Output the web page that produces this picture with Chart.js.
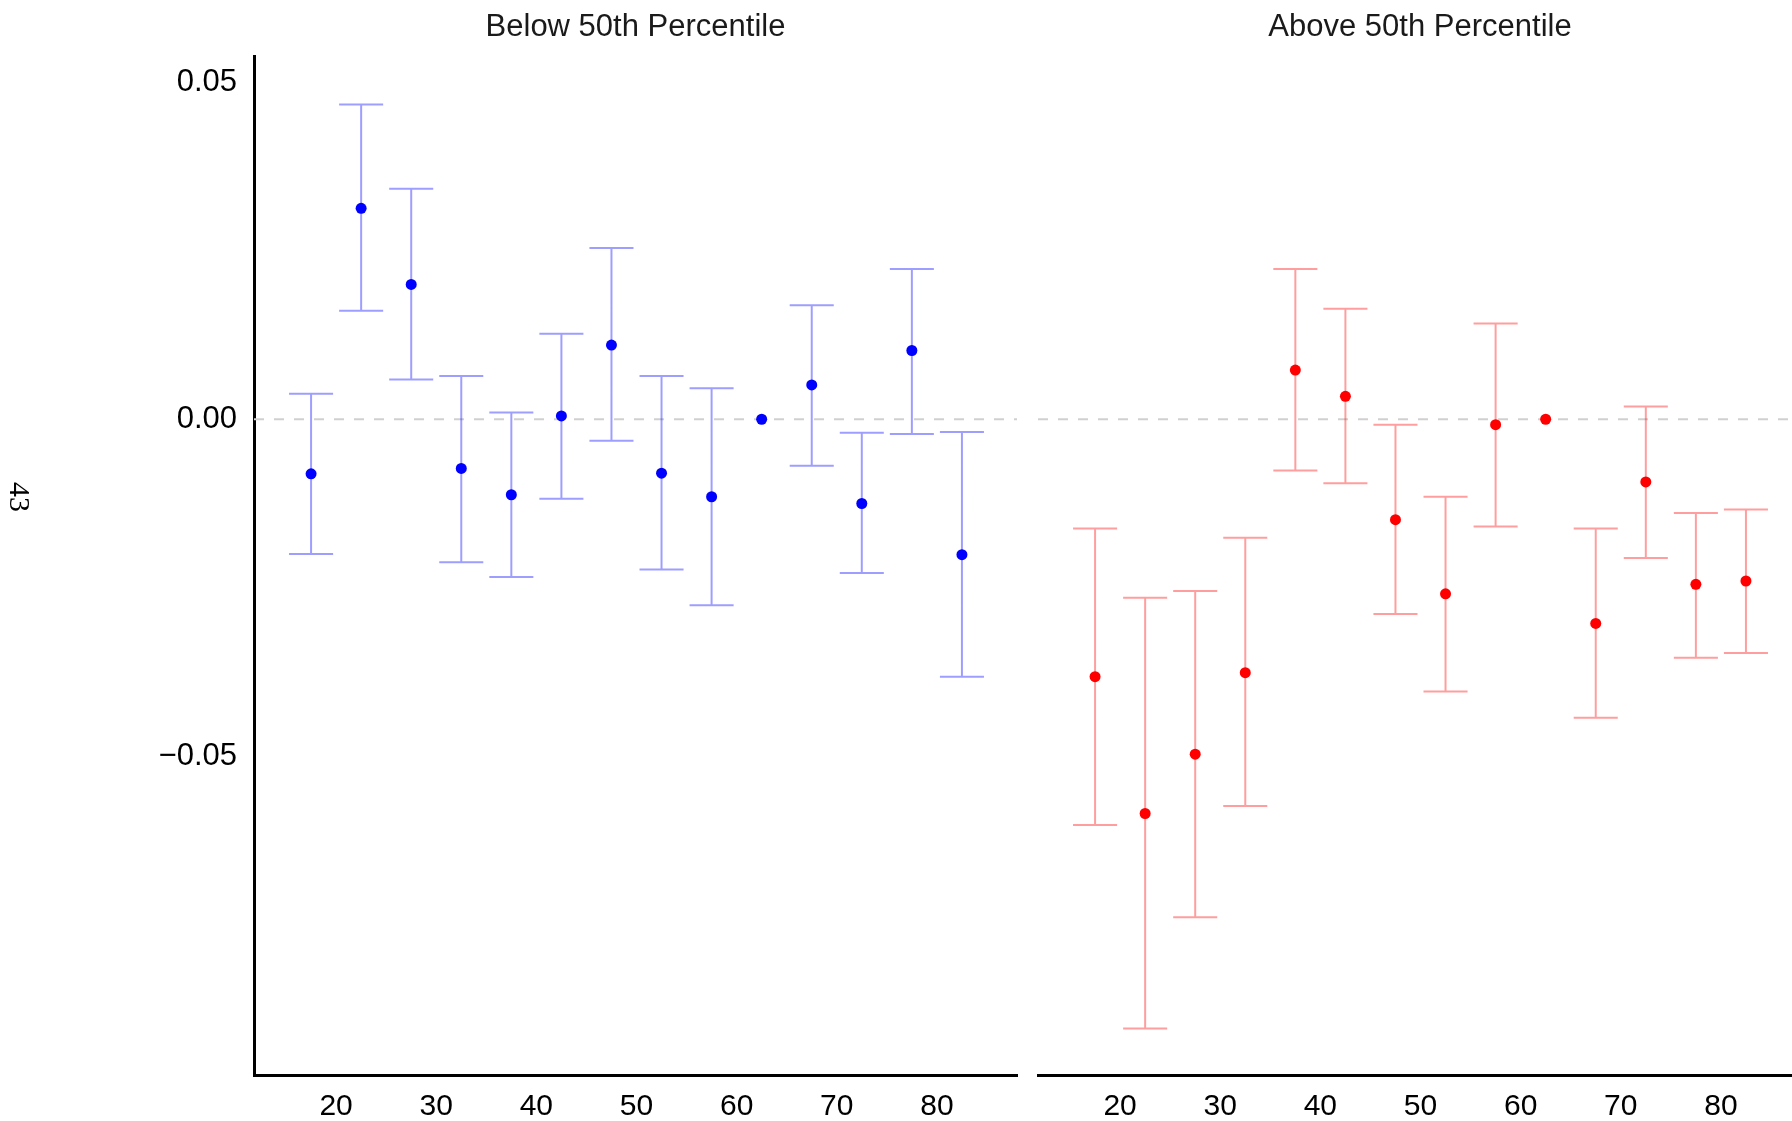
<!DOCTYPE html>
<html>
<head>
<meta charset="utf-8">
<script src="https://cdn.jsdelivr.net/npm/chart.js@4"></script>
<style>
  html, body { margin: 0; padding: 0; background: #fff; overflow: hidden; }
  body { width: 1792px; height: 1121px; position: relative; }
  canvas { position: absolute; top: 0; }
  #c1 { left: 0; }
  #c2 { left: 1030px; }
</style>
</head>
<body>
<canvas id="c1" width="1030" height="1121"></canvas>
<canvas id="c2" width="762" height="1121"></canvas>
<script>
// age bin midpoints
const ages = [17.5, 22.5, 27.5, 32.5, 37.5, 42.5, 47.5, 52.5, 57.5, 62.5, 67.5, 72.5, 77.5, 82.5];

// below 50th percentile (62.5 is the reference group, no interval)
const belowEst = [-0.0081, 0.0313, 0.0200, -0.0073, -0.0112, 0.0005, 0.0110, -0.0080, -0.0115, 0, 0.0051, -0.0125, 0.0102, -0.0201];
const belowHi  = [0.0038, 0.0467, 0.0342, 0.0064, 0.0010, 0.0127, 0.0254, 0.0064, 0.0046, null, 0.0169, -0.0020, 0.0223, -0.0019];
const belowLo  = [-0.0200, 0.0161, 0.0059, -0.0212, -0.0234, -0.0118, -0.0032, -0.0223, -0.0276, null, -0.0069, -0.0228, -0.0022, -0.0382];

// above 50th percentile
const aboveEst = [-0.0382, -0.0585, -0.0497, -0.0376, 0.0073, 0.0034, -0.0149, -0.0259, -0.0008, 0, -0.0303, -0.0093, -0.0245, -0.0240];
const aboveHi  = [-0.0162, -0.0265, -0.0255, -0.0176, 0.0223, 0.0164, -0.0008, -0.0115, 0.0142, null, -0.0162, 0.0019, -0.0139, -0.0134];
const aboveLo  = [-0.0602, -0.0904, -0.0739, -0.0574, -0.0076, -0.0095, -0.0289, -0.0404, -0.0159, null, -0.0443, -0.0206, -0.0354, -0.0347];

const xTicks = [20, 30, 40, 50, 60, 70, 80];
const yTicks = [-0.05, 0, 0.05];
const yTickLabels = ['\u22120.05', '0.00', '0.05'];
const panelTitles = ['Below 50th Percentile', 'Above 50th Percentile'];
const yLabel = '43';

const X_MIN = 11.8;
const X_MAX = 88.0;     // first panel
const X_MAX_CUT = 87.1; // second panel is cut by the page edge
const Y_MIN = -0.0973, Y_MAX = 0.0539;
const CAP = 2.2; // half width of the error bar caps, in x units

// build one line dataset holding all error bars, broken by gaps
function errorBarPoints(xs, lo, hi) {
  const pts = [];
  xs.forEach(function(x, i) {
    if (lo[i] === null) return;
    pts.push({x: x - CAP, y: hi[i]}, {x: x + CAP, y: hi[i]}, {x: x, y: null});
    pts.push({x: x, y: hi[i]}, {x: x, y: lo[i]}, {x: x, y: null});
    pts.push({x: x - CAP, y: lo[i]}, {x: x + CAP, y: lo[i]}, {x: x, y: null});
  });
  return pts;
}

// panel strip title and the rotated side label
const panelText = {
  id: 'panelText',
  afterDraw(chart, args, opts) {
    const ctx = chart.ctx;
    const a = chart.chartArea;
    ctx.save();
    ctx.fillStyle = '#1a1a1a';
    ctx.font = '31px "Liberation Sans", Arial, sans-serif';
    ctx.textAlign = 'center';
    ctx.textBaseline = 'middle';
    ctx.fillText(opts.title, opts.center !== undefined ? opts.center : (a.left + a.right) / 2, 27);
    if (opts.ylabel) {
      ctx.translate(18, 497);
      ctx.rotate(Math.PI / 2);
      ctx.fillStyle = '#000';
      ctx.font = '30px "Liberation Serif", "DejaVu Serif", serif';
      ctx.fillText(opts.ylabel, 0, 0);
    }
    ctx.restore();
  }
};

function makePanel(id, est, lo, hi, dotColor, barColor, title, showY, xMax, titleX, padding) {
  const ctx = document.getElementById(id);
  return new Chart(ctx, {
    type: 'line',
    data: {
      datasets: [
        {
          label: 'estimate',
          type: 'scatter',
          data: ages.map(function(x, i) { return {x: x, y: est[i]}; }),
          backgroundColor: dotColor,
          borderColor: dotColor,
          pointRadius: 5.5,
          pointBorderWidth: 0,
          order: 0
        },
        {
          label: 'ci',
          data: errorBarPoints(ages, lo, hi),
          borderColor: barColor,
          borderWidth: 2,
          pointRadius: 0,
          spanGaps: false,
          fill: false,
          order: 1
        },
        {
          label: 'zero',
          data: [{x: X_MIN, y: 0}, {x: xMax, y: 0}],
          borderColor: '#d0d0d0',
          borderWidth: 2,
          borderDash: [10, 10],
          pointRadius: 0,
          fill: false,
          order: 2
        }
      ]
    },
    options: {
      responsive: false,
      animation: false,
      devicePixelRatio: 1,
      layout: { padding: padding, autoPadding: false },
      plugins: {
        legend: { display: false },
        tooltip: { enabled: false },
        title: { display: false },
        panelText: { title: title, center: titleX, ylabel: showY ? yLabel : null }
      },
      scales: {
        x: {
          type: 'linear',
          min: X_MIN,
          max: xMax,
          grid: { display: false, drawTicks: false },
          border: { display: true, color: '#000', width: 3 },
          afterBuildTicks: function(s) { s.ticks = xTicks.map(function(v) { return {value: v}; }); },
          afterFit: function(s) { s.height = 46; },
          ticks: {
            color: '#000',
            padding: 14,
            maxRotation: 0,
            autoSkip: false,
            font: { family: '"Liberation Sans", Arial, sans-serif', size: 30 }
          }
        },
        y: {
          type: 'linear',
          display: showY,
          min: Y_MIN,
          max: Y_MAX,
          grid: { display: false, drawTicks: false },
          border: { display: true, color: '#000', width: 3 },
          afterBuildTicks: function(s) { s.ticks = yTicks.map(function(v) { return {value: v}; }); },
          afterFit: function(s) { s.width = showY ? 254 : 0; },
          ticks: {
            color: '#000',
            padding: 17,
            callback: function(v) { return yTickLabels[yTicks.indexOf(v)]; },
            font: { family: '"Liberation Sans", Arial, sans-serif', size: 31 }
          }
        }
      }
    },
    plugins: [panelText]
  });
}

makePanel('c1', belowEst, belowLo, belowHi, '#0000ff', 'rgba(0,0,255,0.38)', panelTitles[0], true,
  X_MAX, undefined, {top: 56, left: 0, right: 13, bottom: 0});
// title of the cut panel stays centred on its full (uncut) width
makePanel('c2', aboveEst, aboveLo, aboveHi, '#ff0000', 'rgba(255,0,0,0.38)', panelTitles[1], false,
  X_MAX_CUT, 390, {top: 56, left: 8, right: 0, bottom: 0});
</script>
</body>
</html>
